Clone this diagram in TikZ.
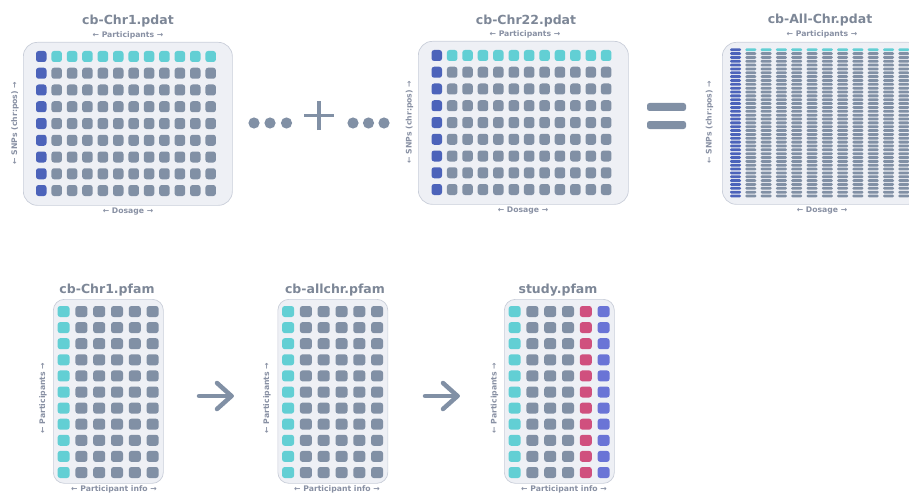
\documentclass[tikz,border=0pt]{standalone}
\usepackage{fontspec}
\setmainfont{DejaVu Sans}
\definecolor{cellgray}{HTML}{8190A5}
\definecolor{cellcyan}{HTML}{62CFD4}
\definecolor{cellblue}{HTML}{4C63BA}
\definecolor{cellpink}{HTML}{D0507E}
\definecolor{cellviolet}{HTML}{6A74D6}
\definecolor{panelfill}{HTML}{EEF0F5}
\definecolor{panelline}{HTML}{C9CED9}
\definecolor{titlegray}{HTML}{7D8797}
\definecolor{labelgray}{HTML}{8890A3}
\definecolor{symgray}{HTML}{8190A5}
\tikzset{
  panel/.style={draw=panelline, fill=panelfill, line width=0.7pt, anchor=north west, inner sep=0pt},
  ttl/.style={font=\bfseries\fontsize{12.5}{14}\selectfont, text=titlegray, inner sep=0pt},
  lbl/.style={font=\bfseries\fontsize{7.7}{9}\selectfont, text=labelgray, inner sep=0pt},
  sym/.style={draw=symgray, line width=4.5pt, line cap=round, line join=round},
}
\newcommand{\cellbox}[5]{\fill[#5, rounded corners=2.6pt] (#1,#2) rectangle ++(#3,#4);}
\begin{document}
\begin{tikzpicture}[x=1pt,y=-1pt]
\useasboundingbox (0,0) rectangle (909,492);
\begin{scope}
\clip (0,0) rectangle (909,492);

% ---------- top panels ----------
\node[panel, rounded corners=14pt, minimum width=209pt, minimum height=163pt] (p1) at (23,42) {};
\node[panel, rounded corners=14pt, minimum width=210pt, minimum height=163pt] (p2) at (418,41) {};
\node[panel, rounded corners=14pt, minimum width=200pt, minimum height=162pt] (p3) at (722,42) {};

% cells of p1 and p2
\foreach \xo/\yo in {36/51, 431.5/50}{
  \foreach \i in {0,...,11}{
    \foreach \j in {0,...,8}{
      \pgfmathsetmacro{\cx}{\xo+15.4*\i}
      \pgfmathsetmacro{\cy}{\yo+16.75*\j}
      \ifnum\i=0 \def\cc{cellblue}\else\ifnum\j=0 \def\cc{cellcyan}\else\def\cc{cellgray}\fi\fi
      \cellbox{\cx}{\cy}{10.5}{11}{\cc}
    }
  }
}
% cells of p3
\foreach \i in {0,...,12}{
  \foreach \j in {0,...,38}{
    \pgfmathsetmacro{\cx}{730+15.3*\i}
    \pgfmathsetmacro{\cy}{48.3+3.85*\j}
    \ifnum\i=0 \def\cc{cellblue}\else\ifnum\j=0 \def\cc{cellcyan}\else\def\cc{cellgray}\fi\fi
    \fill[\cc, rounded corners=1.2pt] (\cx,\cy) rectangle ++(11,2.8);
  }
}

% top labels
\node[ttl] (t1) at (128,21) {cb-Chr1.pdat};
\node[ttl] (t2) at (526,21) {cb-Chr22.pdat};
\node[ttl] (t3) at (820,20) {cb-All-Chr.pdat};
\node[lbl] (a1) at (128,35) {← Participants →};
\node[lbl] (a2) at (525,34.5) {← Participants →};
\node[lbl] (a3) at (822,34.5) {← Participants →};
\node[lbl] (d1) at (128,212) {← Dosage →};
\node[lbl] (d2) at (523,211) {← Dosage →};
\node[lbl] (d3) at (822,211) {← Dosage →};
\node[lbl, rotate=90] (s1) at (15,123) {← SNPs (chr:pos) →};
\node[lbl, rotate=90] (s2) at (409.5,122) {← SNPs (chr:pos) →};
\node[lbl, rotate=90] (s3) at (709.5,122) {← SNPs (chr:pos) →};

% dots, plus, equals
\foreach \x [count=\k] in {254,270,286.5,353,368.5,384}{
  \fill[symgray] (\x,123) circle (5.6pt) coordinate (dot\k);
}
\coordinate (plc) at (319,115.5);
\draw[sym, line width=3.8pt, line cap=butt] ([xshift=-15pt]plc) -- ([xshift=15pt]plc);
\draw[sym, line width=3.8pt, line cap=butt] ([yshift=-14.5pt]plc) -- ([yshift=14.5pt]plc);
\fill[symgray, rounded corners=2.5pt] (647,103) rectangle (686,111);
\fill[symgray, rounded corners=2.5pt] (647,121) rectangle (686,129);

% ---------- bottom panels ----------
\foreach \L/\nm in {53/b1, 277.5/b2, 504/b3}{
  \node[panel, rounded corners=11pt, minimum width=110pt, minimum height=184pt] (\nm) at (\L,299) {};
}
\foreach \L/\kind in {53/0, 277.5/0, 504/1}{
  \foreach \i in {0,...,5}{
    \foreach \j in {0,...,10}{
      \pgfmathsetmacro{\cx}{\L+4.6+17.8*\i}
      \pgfmathsetmacro{\cy}{306+16.1*\j}
      \def\cc{cellgray}
      \ifnum\i=0 \def\cc{cellcyan}\fi
      \ifnum\kind=1
        \ifnum\i=4 \def\cc{cellpink}\fi
        \ifnum\i=5 \def\cc{cellviolet}\fi
      \fi
      \cellbox{\cx}{\cy}{12}{11}{\cc}
    }
  }
}
\node[ttl] (u1) at (107,290) {cb-Chr1.pfam};
\node[ttl] (u2) at (335,290) {cb-allchr.pfam};
\node[ttl] (u3) at (558,290) {study.pfam};
\node[lbl] (v1) at (114,489.5) {← Participant info →};
\node[lbl] (v2) at (337,489.5) {← Participant info →};
\node[lbl] (v3) at (564,489.5) {← Participant info →};
\node[lbl, rotate=90] (w1) at (43,398) {← Participants →};
\node[lbl, rotate=90] (w2) at (267,398) {← Participants →};
\node[lbl, rotate=90] (w3) at (494.5,398) {← Participants →};

% big arrows
\foreach \ax/\nm in {215/ar1, 441/ar2}{
  \coordinate (\nm s) at (\ax-16,396);
  \coordinate (\nm e) at (\ax+16.5,396);
  \coordinate (\nm u) at (\ax+2,383);
  \coordinate (\nm d) at (\ax+2,409);
  \draw[sym] (\nm s) -- (\nm e);
  \draw[sym] (\nm u) -- (\nm e) -- (\nm d);
}
\end{scope}
\end{tikzpicture}
\end{document}
